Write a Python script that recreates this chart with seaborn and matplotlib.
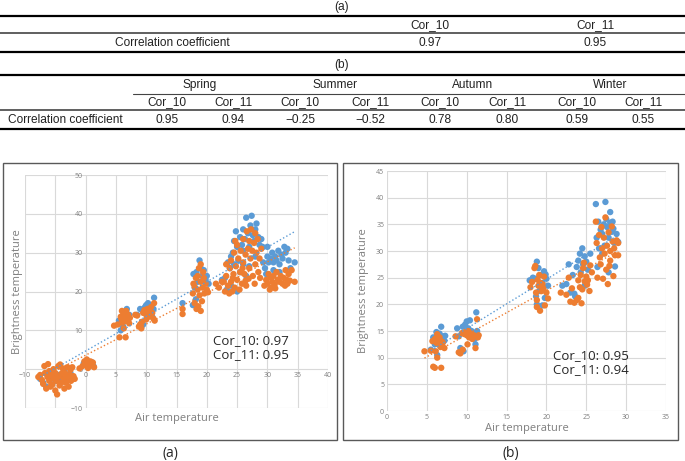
import matplotlib
matplotlib.use("Agg")
import matplotlib.pyplot as plt
from matplotlib.lines import Line2D
from matplotlib.patches import Rectangle
import seaborn as sns
import pandas as pd

# ---- table data ----
tab_a_cols = ["Cor_10", "Cor_11"]
tab_a_vals = ["0.97", "0.95"]
seasons = ["Spring", "Summer", "Autumn", "Winter"]
tab_b_cols = ["Cor_10", "Cor_11"] * 4
tab_b_vals = ["0.95", "0.94", "\u22120.25", "\u22120.52", "0.78", "0.80", "0.59", "0.55"]
row_label = "Correlation coefficient"

# ---- scatter data (a): whole period ----
a10_x = [-7.5, -7, -6.5, -6, -5.5, -5, -4.5, -4, -3.5, -3, -2.5,
         -0.3, 0.2, 0.5, 1, 1.3,
         5.5, 6, 6.2, 6.5, 6.8, 7, 7.2, 5.8,
         8.5, 9, 9.3, 9.5, 9.8, 10, 10.3, 10.5, 10.8, 11, 11.3, 11.2, 9.2,
         16, 17.8, 18, 18.3, 18.5, 18.8, 19, 19.2, 19.5, 19.8, 20, 20.3, 18.2, 17.7,
         22.5, 23, 23.5, 23.8, 24, 24.3, 24.5, 24.5, 24.8, 25, 25.2, 25.5, 25.8, 26, 26,
         26.3, 26.5, 26.8, 27, 27.2, 27.4, 27.6, 27.8, 28, 28.2, 28.5, 28.7, 29, 29.2,
         24, 25, 26.5, 23.3, 28, 27, 26, 25.5,
         29.3, 29.6, 30, 30.2, 30.5, 30.8, 31, 31.3, 31.5, 31.8, 32, 32.3, 32.5, 32.8,
         33, 33.3, 33.5, 33.8, 31, 30, 34.5, 29.8, 32]
a10_y = [-2.5, -3.5, -4.5, -1, -2, -3, -1.5, -2.5, -0.5, -2, -1,
         1.5, 2.2, 1, 1.8, 0.8,
         12.5, 13.5, 11, 14.5, 15.5, 13, 14, 10,
         14, 15.5, 12, 11.5, 16, 16.5, 17, 15, 14.5, 13.5, 18.4, 15.5, 11,
         17, 24.5, 21, 25, 22.5, 28, 26, 24, 25.5, 23, 24, 22, 18, 16.5,
         23, 23.5, 27.5, 26, 29, 30, 33, 27, 35.5, 31.5, 28, 34, 32, 30.5, 36,
         33.5, 39, 35, 31.5, 37, 39.5, 34.5, 33, 36, 37.5, 34, 32, 33.5, 31.5,
         21.5, 20, 24, 20.5, 29, 26.5, 27, 25,
         27.5, 26, 29, 27.5, 28.5, 30, 27.5, 29, 28, 30.5, 27, 29.5, 28.5, 31.5,
         30, 31, 28, 26, 25.5, 31.5, 27.5, 24.5, 25]

a11_x = [-7.8, -7.5, -7, -6.8, -6.5, -6.3, -6, -6, -5.7, -5.5, -5.3, -5.2, -5, -5,
         -4.8, -4.5, -4.5, -4.3, -4, -4, -3.8, -3.6, -3.4, -3.2, -3, -3, -2.8, -2.6,
         -2.4, -2.2, -2, -1.8, -6.2, -4.2, -4.7, -3.5, -5.8, -2.5, -7.2, -6.7,
         -0.5, -0.2, 0, 0.2, 0.4, 0.6, 0.8, 1, 1.2, 1.4, -1,
         4.7, 5.3, 5.6, 5.8, 6, 6.2, 6.3, 6.5, 6.6, 6.8, 7, 7.2, 6, 5.9, 6.4, 7.3, 6.7,
         8.2, 8.5, 8.8, 9, 9.3, 9.5, 9.7, 10, 10.2, 10.4, 10.6, 10.8, 11, 11.2, 11.3,
         11.4, 9.2, 10,
         16, 16, 17.7, 17.8, 18, 18.2, 18.3, 18.5, 18.5, 18.7, 18.8, 19, 19, 19.2, 19.3,
         19.5, 19.6, 19.8, 20, 19, 18.6, 18, 19.4, 20.2,
         21.5, 22, 22.5, 23, 23.2, 23.5, 23.7, 23.8, 24, 24, 24.2, 24.4, 24.5, 24.6,
         24.8, 25, 25, 25.2, 25.4, 25.5, 25.6, 25.8, 26, 26, 26.2, 26.4, 26.5, 26.6,
         26.8, 27, 27, 27.2, 27.3, 27.5, 27.6, 27.8, 28, 28, 28.2, 28.4, 28.5, 28.7,
         28.8, 29, 23.2, 22.8, 24.7, 26.4, 27.9, 25.9, 24.3, 26.9,
         29.5, 29.8, 30, 30.2, 30.4, 30.6, 30.8, 31, 31.2, 31.5, 31.7, 32, 32.2, 32.5,
         32.7, 33, 33.2, 33.5, 33.7, 34, 34.5, 31.3, 33.3, 32.9, 30.6]
a11_y = [-2, -1.5, -3.8, 0.8, -5, -2, -0.5, -3, -1.5, -4, 0, -2.5, -1, -5.5,
         -3, 0.8, -2, -4.2, -1.2, -3.5, 0.2, -2.5, -1, -3.5, 0.5, -2, -4.5, -1.5,
         -3, 0.5, -1.8, -2.5, 1.3, 1.2, -6.5, -5, -4.5, -0.2, -2.8, -1,
         0.8, 2, 1.2, 2.5, 0.3, 1.5, 2, 1, 1.7, 0.5, 0.2,
         11.2, 11.5, 8.2, 13.5, 12, 14, 10.5, 13, 8.2, 12.5, 14, 11.8, 15, 13, 12.3, 13.2, 15,
         14, 13.8, 11, 11.5, 12.2, 14.5, 15.2, 14, 15.5, 13.5, 14.8, 16, 14.5, 13, 17,
         12.5, 10.5, 12.8,
         14.2, 15.5, 19.5, 22, 17, 23.5, 15.5, 20.5, 24, 26, 19, 22.5, 27, 17.5, 21,
         23.5, 19.5, 22, 20.5, 15, 16.2, 21.2, 25, 19.8,
         22, 21, 22.5, 20, 24, 21.5, 19.5, 26, 22.5, 28, 20, 24.5, 30, 21,
         26.5, 23, 32, 28.5, 20.5, 25, 30.5, 22, 27.5, 33.5, 24.5, 29.5, 21.5, 35.5,
         31, 26, 33, 28.5, 36, 30.5, 24, 32.5, 35, 27, 30, 33.5, 25, 28.5,
         23.5, 31, 27, 22.5, 33, 22.8, 22, 26, 23.5, 23.3,
         21.5, 23, 22, 24.5, 20.5, 23.5, 22.5, 24, 21.8, 25, 23, 22.5, 24, 22,
         23.5, 25.5, 23, 24.5, 22.8, 25.5, 22.5, 20.8, 22, 21.5, 21]

# ---- scatter data (b) ----
b10_x = [5.5, 5.8, 6, 6.2, 6.5, 6.8, 7, 7.2, 6.3, 7.3, 6.6, 5.9,
         8.8, 9.2, 9.5, 9.6, 9.8, 10, 10.2, 10.4, 10.6, 10.9, 11, 11.2, 11.3, 11.1, 9,
         17.9, 18.3, 18.6, 18.8, 18.7, 18.8, 19, 19.1, 19.3, 19.5, 19.7, 19.8, 20, 20.2,
         19.5, 19.9,
         22, 22.5, 22.8, 23, 23.3, 23.5, 23.8, 24, 24.2, 24.3, 24.5, 24.6, 24.8, 25,
         25.2, 25.5, 24.8, 23.6,
         26.2, 26.3, 26.5, 26.6, 26.8, 27, 27, 27.2, 27.4, 27.5, 27.6, 27.8, 28, 28,
         28.2, 28.4, 28.5, 28.6, 28.8, 29, 27.3, 27.8, 26.4, 28.3]
b10_y = [11.5, 13.8, 12.5, 14.8, 13, 15.8, 14, 13.2, 10.5, 14.1, 14.5, 13.5,
         15.5, 11.8, 15.8, 11.2, 16.2, 16.8, 15.5, 17, 15, 14.2, 13.5, 18.5, 15, 12.5, 14,
         24.5, 25, 24.8, 28, 21.5, 20, 26.8, 22.5, 25.5, 24, 26.2, 21.2, 24.8, 23.5,
         19.8, 25.6,
         23.5, 23.8, 27.5, 22.2, 25.5, 22, 27, 28.2, 29.5, 26, 30.5, 27.5, 29, 28,
         26.5, 29.5, 23.5, 21.5,
         38.8, 32.5, 35.5, 30.5, 34, 33.2, 29.5, 35, 39.2, 36, 34.5, 32.5, 37.3, 35.3,
         33.6, 34.2, 31.5, 27.1, 33.2, 31.7, 31, 26, 27, 35.5]

b11_x = [4.7, 5.5, 5.8, 6, 6, 6.2, 6.3, 6.4, 6.5, 6.6, 6.8, 6.9, 7, 7.2, 6.1, 6.7, 6.3, 5.7,
         8.6, 9, 9.2, 9.5, 9.6, 9.8, 10, 10.2, 10.3, 10.5, 10.7, 10.9, 11.1, 11.3, 11.4,
         11.5, 10.1, 9.4,
         18, 18.2, 18.5, 18.6, 18.7, 18.8, 18.8, 19, 19.1, 19.2, 19.3, 19.4, 19.5, 19.7,
         19.8, 20, 20.2, 18.9, 19.6,
         21.8, 22.5, 22.8, 23, 23.2, 23.5, 23.8, 24, 24, 24.2, 24.3, 24.5, 24.6, 24.8,
         25, 25.2, 25.4, 25.5, 25.7, 24.4, 25.1, 24.7,
         26.2, 26.3, 26.4, 26.6, 26.7, 26.8, 27, 27.1, 27.2, 27.3, 27.4, 27.5, 27.6, 27.7,
         27.8, 28, 28, 28.2, 28.3, 28.4, 28.5, 28.6, 28.8, 29, 29, 26.9, 27.9]
b11_y = [11.2, 11.3, 8.3, 13.5, 8.1, 12.8, 10, 13.5, 12.5, 13.8, 8.1, 13, 12.8, 11.8, 11.2, 12, 14.4, 13.1,
         14, 11, 10.8, 11.5, 14.5, 14.8, 14.2, 15, 13.8, 14.5, 13.5, 14.2, 11.8, 17.2, 13.8,
         14.2, 12.5, 14.6,
         23.2, 24.2, 26.8, 27.2, 22.2, 19.5, 20.8, 23.5, 25.5, 18.8, 24, 22.5, 23.8, 25.2,
         19.8, 22.2, 21.1, 24.6, 23,
         22.2, 21.8, 25, 20.5, 23, 20.3, 20.8, 21.2, 24.5, 23.2, 25.5, 22.8, 26.8, 24.3,
         25.2, 24.5, 22.5, 27.3, 26, 20.2, 23.7, 27.8,
         35.5, 31.5, 25, 33, 28.8, 27.5, 30.5, 24.8, 32.5, 29.5, 36.3, 26.5, 31, 23.8,
         33.5, 30, 28.2, 34.6, 31.8, 25.3, 30.5, 29.2, 32, 29.2, 31.5, 34.5, 27.2]

BLUE = "#5B9BD5"
ORANGE = "#ED7D31"
GRID = "#d9d9d9"
LABEL = "#7f7f7f"

sns.set_style("white")
plt.rcParams["font.family"] = ["Open Sans", "DejaVu Sans"]
tab_font = ["Liberation Sans", "DejaVu Sans"]

W, H = 685, 461
fig = plt.figure(figsize=(W / 100, H / 100), dpi=100)


def fx(px):
    return px / W


def fy(py):
    return 1 - py / H


def hline(py, lw, x0=0, x1=W, color="black"):
    fig.add_artist(Line2D([fx(x0), fx(x1)], [fy(py), fy(py)], lw=lw, color=color))


def ttext(px, py, s, size=8.6):
    fig.text(fx(px), fy(py), s, ha="center", va="center", fontsize=size,
             family=tab_font, color="#222222")


# ---- table (a) ----
ttext(342, 7, "(a)")
hline(16, 1.6)
for px, c in zip([430, 595], tab_a_cols):
    ttext(px, 25, c)
hline(33, 1.2, color="#444444")
ttext(172, 43, row_label)
for px, v in zip([430, 595], tab_a_vals):
    ttext(px, 43, v)
hline(52, 1.6)

# ---- table (b) ----
ttext(342, 65, "(b)")
hline(75, 1.6)
for px, s in zip([200, 335, 473, 610], seasons):
    ttext(px, 85, s)
hline(94, 0.8, x0=133, color="#444444")
col_px = [167, 233, 300, 370, 440, 507, 577, 643]
for px, c in zip(col_px, tab_b_cols):
    ttext(px, 102, c)
hline(110, 1.2, color="#444444")
ttext(65, 120, row_label)
for px, v in zip(col_px, tab_b_vals):
    ttext(px, 120, v)
hline(129, 1.6)

# ---- frames around the two charts ----
for x0, x1 in [(3, 337), (343, 678)]:
    fig.add_artist(Rectangle((fx(x0), fy(440)), fx(x1) - fx(x0), fy(163) - fy(440),
                             fill=False, ec="#595959", lw=1.0))


def scatter_panel(ax, x10, y10, x11, y11):
    df = pd.concat([
        pd.DataFrame({"Air": x10, "Bright": y10, "series": "Cor_10"}),
        pd.DataFrame({"Air": x11, "Bright": y11, "series": "Cor_11"}),
    ], ignore_index=True)
    sns.scatterplot(data=df, x="Air", y="Bright", hue="series",
                    palette={"Cor_10": BLUE, "Cor_11": ORANGE},
                    s=21, linewidth=0, legend=False, ax=ax, zorder=3)
    sns.regplot(x=x10, y=y10, scatter=False, ci=None, ax=ax, color=BLUE,
                line_kws=dict(ls=":", lw=1.0, zorder=4))
    sns.regplot(x=x11, y=y11, scatter=False, ci=None, ax=ax, color=ORANGE,
                line_kws=dict(ls=":", lw=1.0, zorder=4))
    ax.set_axisbelow(True)
    ax.grid(True, color=GRID, lw=0.8)
    for sp in ax.spines.values():
        sp.set_visible(False)
    ax.tick_params(length=0, labelsize=5, labelcolor=LABEL, pad=2)
    ax.set_xlabel("Air temperature", fontsize=8, color=LABEL, labelpad=2)
    ax.set_ylabel("Brightness temperature", fontsize=8, color=LABEL)


# ---- chart (a) ----
ax1 = fig.add_axes([fx(25), fy(408), fx(328) - fx(25), fy(175) - fy(408)])
scatter_panel(ax1, a10_x, a10_y, a11_x, a11_y)
ax1.set_xlim(-10, 40)
ax1.set_ylim(-10, 50)
ax1.set_xticks(range(-10, 41, 5))
ax1.set_yticks(range(-10, 51, 10))
ax1.spines["left"].set_position(("data", 0))
ax1.spines["bottom"].set_position(("data", 0))
ax1.xaxis.set_label_coords(0.5, -0.02)
ax1.yaxis.set_label_coords((23 - 25) / (328 - 25), 0.5)
ax1.text((213 - 25) / (328 - 25), 1 - (334 - 175) / (408 - 175),
         "Cor_10: 0.97\nCor_11: 0.95", transform=ax1.transAxes, fontsize=9.5,
         va="top", ha="left", linespacing=1.1)
fig.text(fx(170), fy(453), "(a)", ha="center", va="center", fontsize=10)

# ---- chart (b) ----
ax2 = fig.add_axes([fx(387), fy(411), fx(666) - fx(387), fy(171) - fy(411)])
scatter_panel(ax2, b10_x, b10_y, b11_x, b11_y)
ax2.set_xlim(0, 35)
ax2.set_ylim(0, 45)
ax2.set_xticks(range(0, 36, 5))
ax2.set_yticks(range(0, 46, 5))
ax2.xaxis.set_label_coords(0.5, -0.05)
ax2.yaxis.set_label_coords((369 - 387) / (666 - 387), 0.5)
ax2.text((553 - 387) / (666 - 387), 1 - (349 - 171) / (411 - 171),
         "Cor_10: 0.95\nCor_11: 0.94", transform=ax2.transAxes, fontsize=9.5,
         va="top", ha="left", linespacing=1.1)
fig.text(fx(511), fy(453), "(b)", ha="center", va="center", fontsize=10)

fig.savefig("out.png", dpi=100)
